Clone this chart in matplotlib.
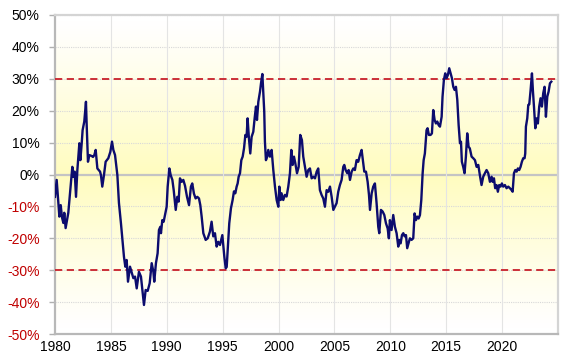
import numpy as np
import matplotlib
matplotlib.use('Agg')
import matplotlib.pyplot as plt
import matplotlib.ticker as ticker

# values (decimal year, %)
years = [
    1980.00, 1980.15, 1980.39, 1980.51, 1980.63, 1980.75, 1980.83, 1980.95, 1981.19, 1981.40,
    1981.55, 1981.64, 1981.76, 1981.88, 1982.00, 1982.18, 1982.27, 1982.39, 1982.47, 1982.62,
    1982.77, 1982.83, 1982.95, 1983.07, 1983.28, 1983.40, 1983.52, 1983.64, 1983.79, 1984.03,
    1984.11, 1984.23, 1984.38, 1984.53, 1984.77, 1984.95, 1985.10, 1985.22, 1985.37, 1985.58,
    1985.72, 1985.90, 1986.17, 1986.29, 1986.41, 1986.53, 1986.71, 1987.01, 1987.16, 1987.31,
    1987.51, 1987.69, 1987.96, 1988.11, 1988.29, 1988.47, 1988.65, 1988.80, 1988.88, 1989.03,
    1989.18, 1989.30, 1989.42, 1989.48, 1989.60, 1989.72, 1989.84, 1989.99, 1990.08, 1990.23,
    1990.35, 1990.50, 1990.62, 1990.80, 1990.94, 1991.06, 1991.18, 1991.33, 1991.48, 1991.63,
    1991.81, 1991.99, 1992.16, 1992.28, 1992.43, 1992.58, 1992.73, 1992.88, 1993.00, 1993.12,
    1993.27, 1993.48, 1993.66, 1993.86, 1994.01, 1994.16, 1994.31, 1994.46, 1994.61, 1994.76,
    1994.97, 1995.15, 1995.27, 1995.36, 1995.47, 1995.59, 1995.74, 1995.89, 1996.01, 1996.13,
    1996.25, 1996.34, 1996.43, 1996.55, 1996.67, 1996.79, 1996.91, 1997.03, 1997.14, 1997.23,
    1997.35, 1997.47, 1997.59, 1997.74, 1997.86, 1997.98, 1998.07, 1998.19, 1998.34, 1998.43,
    1998.55, 1998.64, 1998.72, 1998.78, 1998.87, 1998.99, 1999.08, 1999.23, 1999.38, 1999.53,
    1999.68, 1999.83, 1999.98, 2000.07, 2000.19, 2000.27, 2000.42, 2000.57, 2000.72, 2000.87,
    2001.02, 2001.14, 2001.26, 2001.38, 2001.50, 2001.65, 2001.80, 2001.94, 2002.09, 2002.21,
    2002.36, 2002.51, 2002.66, 2002.81, 2002.96, 2003.11, 2003.26, 2003.41, 2003.55, 2003.70,
    2003.85, 2004.00, 2004.15, 2004.30, 2004.45, 2004.60, 2004.75, 2004.90, 2005.04, 2005.19,
    2005.34, 2005.49, 2005.64, 2005.79, 2005.88, 2006.00, 2006.15, 2006.27, 2006.39, 2006.54,
    2006.69, 2006.83, 2006.98, 2007.13, 2007.28, 2007.43, 2007.58, 2007.67, 2007.82, 2007.97,
    2008.09, 2008.18, 2008.33, 2008.47, 2008.62, 2008.77, 2008.92, 2009.01, 2009.16, 2009.31,
    2009.46, 2009.61, 2009.76, 2009.87, 2009.96, 2010.11, 2010.26, 2010.41, 2010.56, 2010.71,
    2010.80, 2010.92, 2011.04, 2011.16, 2011.28, 2011.40, 2011.51, 2011.63, 2011.75, 2011.90,
    2012.05, 2012.17, 2012.29, 2012.41, 2012.53, 2012.65, 2012.77, 2012.89, 2012.98, 2013.09,
    2013.24, 2013.33, 2013.45, 2013.60, 2013.72, 2013.84, 2013.96, 2014.08, 2014.20, 2014.32,
    2014.44, 2014.59, 2014.67, 2014.79, 2014.91, 2015.03, 2015.15, 2015.27, 2015.39, 2015.51,
    2015.63, 2015.75, 2015.87, 2015.99, 2016.11, 2016.23, 2016.32, 2016.40, 2016.52, 2016.64,
    2016.76, 2016.88, 2017.00, 2017.11, 2017.27, 2017.42, 2017.57, 2017.72, 2017.87, 2018.01,
    2018.16, 2018.31, 2018.46, 2018.61, 2018.76, 2018.91, 2019.06, 2019.15, 2019.27, 2019.38,
    2019.50, 2019.62, 2019.74, 2019.86, 2019.98, 2020.10, 2020.25, 2020.40, 2020.55, 2020.70,
    2020.85, 2020.94, 2021.06, 2021.18, 2021.30, 2021.41, 2021.53, 2021.65, 2021.77, 2021.89,
    2022.01, 2022.07, 2022.13, 2022.25, 2022.34, 2022.43, 2022.55, 2022.67, 2022.76, 2022.85,
    2022.97, 2023.09, 2023.20, 2023.32, 2023.44, 2023.56, 2023.68, 2023.80, 2023.92, 2024.04,
    2024.16, 2024.28, 2024.40,
]
values = [
    -7.0, -1.7, -13.2, -9.6, -13.5, -15.2, -12.0, -16.8, -12.0, -3.8,
    2.4, -0.7, 0.9, -7.0, 1.4, 9.8, 4.5, 9.8, 13.9, 16.6,
    22.8, 16.0, 4.0, 6.1, 5.8, 5.5, 6.1, 7.7, 1.9, 0.9,
    -0.2, -3.8, -0.2, 4.0, 5.1, 7.1, 10.3, 7.7, 6.1, -0.2,
    -8.9, -15.3, -25.8, -28.9, -26.8, -33.6, -28.9, -32.5, -32.0, -35.7,
    -30.5, -32.0, -40.9, -36.2, -36.5, -34.1, -27.8, -30.5, -33.6, -27.8,
    -24.7, -17.4, -16.4, -18.4, -14.3, -14.8, -12.7, -10.1, -3.8, 1.9,
    -0.2, -1.7, -4.9, -11.1, -7.0, -8.5, -1.2, -2.3, -1.7, -3.5,
    -7.0, -9.6, -3.8, -2.8, -6.0, -7.5, -7.0, -7.5, -9.6, -13.2,
    -18.4, -20.5, -20.0, -17.9, -14.8, -19.4, -18.4, -22.6, -21.1, -22.1,
    -19.0, -25.8, -29.4, -29.0, -22.6, -15.3, -10.6, -8.0, -5.3, -5.9,
    -3.8, -2.8, -0.7, 0.4, 4.5, 5.6, 8.2, 12.4, 11.8, 17.6,
    11.3, 6.6, 11.8, 13.4, 17.6, 21.3, 17.1, 22.8, 26.0, 28.6,
    31.5, 25.5, 19.7, 10.3, 4.5, 5.6, 7.7, 5.6, 7.7, 1.4,
    -3.8, -8.0, -10.1, -3.8, -8.0, -5.9, -8.0, -6.4, -6.9, -3.8,
    0.4, 7.7, 3.0, 5.6, 3.5, 0.4, 2.4, 12.4, 10.8, 5.6,
    2.4, -0.7, 1.4, 1.9, -1.2, -0.7, -1.2, 0.9, 1.9, -4.9,
    -6.4, -7.5, -10.1, -4.9, -5.4, -3.8, -7.0, -11.1, -10.1, -9.0,
    -5.4, -3.3, -1.7, 2.4, 3.0, 1.4, 0.4, 1.4, -1.7, 0.9,
    1.9, 1.4, 4.5, 4.0, 6.1, 7.7, 3.5, 0.9, 0.9, -2.3,
    -6.4, -11.1, -5.9, -3.8, -2.8, -9.0, -16.4, -18.4, -11.1, -11.6,
    -12.7, -15.3, -16.9, -20.0, -14.3, -17.4, -12.7, -16.4, -18.4, -22.6,
    -20.5, -21.6, -19.0, -18.4, -19.4, -19.0, -23.1, -21.6, -20.0, -20.5,
    -20.0, -12.2, -14.3, -13.2, -13.8, -12.7, -8.0, 0.4, 4.5, 6.6,
    13.9, 14.5, 12.4, 12.4, 12.9, 20.2, 17.1, 16.0, 16.6, 15.5,
    15.0, 18.1, 24.4, 29.6, 31.7, 30.2, 31.2, 33.3, 31.7, 30.2,
    27.5, 26.5, 27.5, 23.4, 15.5, 9.8, 10.3, 4.0, 2.4, 0.4,
    5.6, 12.9, 8.7, 8.2, 5.6, 5.1, 4.5, 2.4, 3.0, -0.2,
    -3.3, -0.7, 0.4, 1.4, 0.4, -2.3, -0.7, -2.3, -1.2, -4.3,
    -3.3, -5.4, -3.3, -3.8, -2.8, -3.8, -3.3, -4.3, -3.8, -4.3,
    -4.9, -5.4, 0.4, 1.4, 0.9, 1.9, 1.4, 2.4, 4.0, 5.1,
    5.1, 6.6, 15.0, 17.6, 21.8, 22.0, 26.5, 31.7, 26.0, 21.3,
    14.5, 17.6, 16.0, 21.3, 23.9, 21.3, 25.5, 27.5, 18.1, 24.4,
    26.0, 28.6, 29.1,
]

band = [-30, 30]
y_ticks = list(range(-50, 51, 10))
x_ticks = list(range(1980, 2021, 5))

fig = plt.figure(figsize=(5.72, 3.6), dpi=100)
ax = fig.add_axes([55 / 572, 26 / 360, 503 / 572, 319 / 360])
ax.set_xlim(1980, 2025)
ax.set_ylim(-50, 50)

# yellow background, strongest around 0%, fading to white at the edges
g = np.linspace(-50, 50, 200)
w = np.clip(1 - np.abs(g) / 48, 0, 1) ** 1.1
grad = np.ones((len(g), 1, 3))
grad[:, 0, 2] = 1 - 0.25 * w
grad[:, 0, 1] = 1 - 0.01 * w
ax.imshow(grad, extent=[1980, 2025, -50, 50], origin='lower', aspect='auto', zorder=0)

# grid
for yv in y_ticks:
    if yv == 0:
        ax.axhline(0, color='#c4c4c4', lw=1.6, zorder=1)
    else:
        ax.axhline(yv, color='#d8d8d8', lw=0.8, ls=(0, (1, 1)), zorder=1)
for xv in x_ticks[1:]:
    ax.axvline(xv, color='#e4e4e4', lw=0.8, zorder=1)

for b in band:
    ax.axhline(b, color='#c8202a', lw=1.3, ls=(0, (4, 2.5)), zorder=3)

ax.plot(years, values, color='#0c0c6e', lw=1.7, zorder=4)

ax.set_yticks(y_ticks)
ax.set_yticklabels([str(v) + '%' for v in y_ticks], fontsize=10, family='Liberation Sans')
for lab, v in zip(ax.get_yticklabels(), y_ticks):
    lab.set_color('#c00000' if v < 0 else 'black')
ax.set_xticks(x_ticks)
ax.set_xticklabels([str(v) for v in x_ticks], fontsize=10, family='Liberation Sans')

ax.tick_params(axis='y', length=4, width=1, color='#b0b0b0', pad=7)
ax.tick_params(axis='x', length=0, pad=4)

for side in ['left', 'bottom']:
    ax.spines[side].set_color('#b8b8b8')
    ax.spines[side].set_linewidth(1.6)
for side in ['top', 'right']:
    ax.spines[side].set_color('#d4d4d4')
    ax.spines[side].set_linewidth(1.6)

fig.savefig('out.png', dpi=100)
